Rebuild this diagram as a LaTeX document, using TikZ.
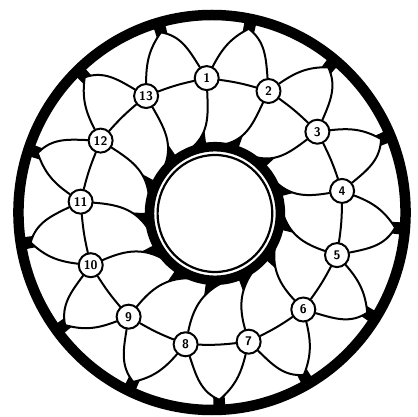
\documentclass[tikz,border=0pt]{standalone}
\usetikzlibrary{calc}
\begin{document}
\begin{tikzpicture}[x=1pt,y=1pt,
  ln/.style={line width=2pt, line cap=round},
  nd/.style={circle, draw, line width=2pt, fill=white, minimum size=24pt, inner sep=0pt,
    font=\sffamily\bfseries\fontsize{12.5}{12.5}\selectfont}]
\useasboundingbox (-212,-204.5) rectangle (205,212.5);
\fill[white] (-212,-204.5) rectangle (205,212.5);
\begin{scope}[xscale=0.98]
 \coordinate (o) at (0,0);
 \coordinate (ic) at (3,-1);
 \draw[line width=10.5pt] (o) circle [radius=197.5];
 \draw[line width=9.5pt] (ic) circle [radius=66.8];
 \draw[line width=2.2pt] (ic) circle [radius=58.5];
 \foreach \k in {1,...,13}{
   \pgfmathsetmacro{\ang}{92.3-(\k-1)*360/13}
   \node[nd] (n\k) at (\ang:134.5) {\k};
 }
 \foreach \k in {1,...,13}{
   \pgfmathsetmacro{\ang}{92.3-(\k-1)*360/13}
   \pgfmathtruncatemacro{\kk}{mod(\k,13)+1}
   \pgfmathsetmacro{\apx}{\ang-180/13}
   \pgfmathsetmacro{\outa}{\ang-30}
   \pgfmathsetmacro{\ina}{\apx+128}
   \pgfmathsetmacro{\outb}{\ang-360/13+30}
   \pgfmathsetmacro{\inb}{\apx-115}
   \pgfmathsetmacro{\outi}{\ang+180}
   \pgfmathsetmacro{\ini}{\ang-50}
   \pgfmathsetmacro{\endi}{\ang+16}
   \coordinate (a\k) at (\apx:187.5);
   \coordinate (b\k) at ($(ic)+(\endi:70.5)$);
   \draw[ln] (n\k) to[bend left=4] (n\kk);
   \draw[ln] (n\k) to[out=\outa,in=\ina] coordinate[pos=0.88] (qa\k) (a\k);
   \draw[ln] (n\kk) to[out=\outb,in=\inb] coordinate[pos=0.88] (qb\k) (a\k);
   \draw[ln] (n\k) to[out=\outi,in=\ini] coordinate[pos=0.66] (qi\k) coordinate[pos=0.83] (qj\k) (b\k);
   \fill (a\k) -- (qa\k) -- ($(o)!195pt!(qa\k)$) -- ($(o)!195pt!(qb\k)$) -- (qb\k) -- cycle;
   \fill (b\k) -- (qj\k) -- (qi\k) -- ($(ic)!66pt!(qi\k)$) -- ($(ic)!66pt!(qj\k)$) -- cycle;
 }
\end{scope}
\end{tikzpicture}
\end{document}
